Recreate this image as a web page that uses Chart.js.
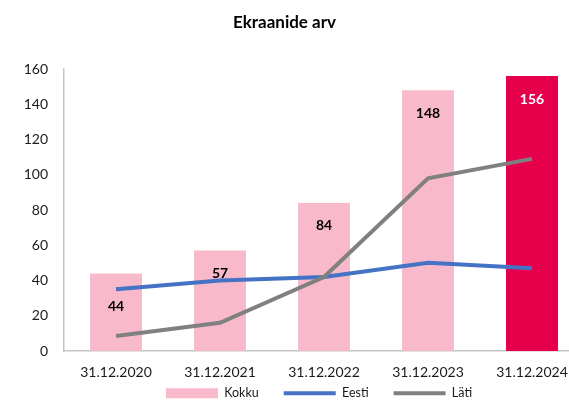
<!DOCTYPE html>
<html>
<head>
<meta charset="utf-8">
<script src="https://cdn.jsdelivr.net/npm/chart.js@4.4.1/dist/chart.umd.min.js"></script>
<style>
  html, body { margin: 0; padding: 0; background: #fff; overflow: hidden; }
  #wrap { width: 584px; height: 403px; }
</style>
</head>
<body>
<div id="wrap"><canvas id="myChart" width="584" height="403"></canvas></div>
<script>
const chartTitle = 'Ekraanide arv';
const dates = ['31.12.2020', '31.12.2021', '31.12.2022', '31.12.2023', '31.12.2024'];
const kokku = [44, 57, 84, 148, 156];
const eesti = [35, 40, 42, 50, 47];
const lati = [8.5, 16, 42, 98, 109];
const yTicks = [0, 20, 40, 60, 80, 100, 120, 140, 160];

const pink = '#F8B9CB';
const red = '#E6004C';
const barColors = kokku.map((v, i) => i === kokku.length - 1 ? red : pink);
const labelColors = kokku.map((v, i) => i === kokku.length - 1 ? '#ffffff' : '#000000');

const fontFamily = 'Lato, "Open Sans", sans-serif';

// title drawn at the centre of the visible window
const titlePlugin = {
  id: 'plainTitle',
  afterDraw(chart) {
    const c = chart.ctx;
    c.save();
    c.font = 'bold 17px ' + fontFamily;
    c.fillStyle = '#000';
    c.textAlign = 'center';
    c.textBaseline = 'middle';
    c.fillText(chartTitle, 284.5, 23);
    c.restore();
  }
};

// legend needs wide gaps between items but sits close under the axis labels
const legendNudge = {
  id: 'legendNudge',
  afterLayout(chart) {
    const lg = chart.legend;
    if (!lg) return;
    lg.top -= 21;
    lg.bottom -= 21;
    lg.left -= 5;
    lg.right -= 5;
  }
};

// value labels inside the bars
const barLabels = {
  id: 'barLabels',
  afterDatasetsDraw(chart) {
    const meta = chart.getDatasetMeta(0);
    const c = chart.ctx;
    c.save();
    c.font = 'bold 14px ' + fontFamily;
    c.textAlign = 'center';
    c.textBaseline = 'middle';
    meta.data.forEach((bar, i) => {
      const h = bar.base - bar.y;
      const y = h < 90 ? bar.y + h * 0.42 : bar.y + 23;
      c.fillStyle = labelColors[i];
      c.fillText(String(kokku[i]), bar.x, y);
    });
    c.restore();
  }
};

const ctx = document.getElementById('myChart');

const data = {
  labels: dates,
  datasets: [
    {
      type: 'bar',
      label: 'Kokku',
      data: kokku,
      backgroundColor: barColors,
      borderWidth: 0,
      barPercentage: 1,
      categoryPercentage: 0.5,
      pointStyle: 'rect',
      order: 3
    },
    {
      type: 'line',
      label: 'Eesti',
      data: eesti,
      borderColor: '#4472C4',
      backgroundColor: '#4472C4',
      borderWidth: 4,
      pointRadius: 0,
      pointStyle: 'line',
      tension: 0,
      order: 2
    },
    {
      type: 'line',
      label: 'Läti',
      data: lati,
      borderColor: '#808080',
      backgroundColor: '#808080',
      borderWidth: 4,
      pointRadius: 0,
      pointStyle: 'line',
      tension: 0,
      order: 1
    }
  ]
};

var chart = new Chart(ctx, {
  data: data,
  plugins: [titlePlugin, barLabels, legendNudge],
  options: {
    responsive: false,
    animation: false,
    layout: {
      padding: { top: 69, left: 0, right: 0, bottom: -27.5 }
    },
    scales: {
      y: {
        min: 0,
        max: 160,
        afterBuildTicks: (scale) => { scale.ticks = yTicks.map(v => ({ value: v })); },
        afterFit: (scale) => { scale.width = 64; },
        grid: { display: false, drawTicks: false },
        border: { display: true, color: '#c4c4c4', width: 1.5 },
        ticks: {
          padding: 16,
          color: '#1a1a1a',
          font: { family: fontFamily, size: 14 }
        }
      },
      x: {
        afterFit: (scale) => { scale.height = 32; },
        grid: { display: false, drawTicks: false },
        border: { display: true, color: '#c4c4c4', width: 1.5 },
        ticks: {
          padding: 13,
          color: '#1a1a1a',
          font: { family: fontFamily, size: 14 }
        }
      }
    },
    plugins: {
      title: { display: false },
      tooltip: { enabled: false },
      legend: {
        position: 'bottom',
        fullSize: false,
        labels: {
          usePointStyle: true,
          pointStyleWidth: 52,
          boxHeight: 10,
          padding: 25,
          color: '#1a1a1a',
          font: { family: fontFamily, size: 12.5 },
          sort: (a, b) => a.datasetIndex - b.datasetIndex
        }
      }
    }
  }
});
</script>
</body>
</html>
